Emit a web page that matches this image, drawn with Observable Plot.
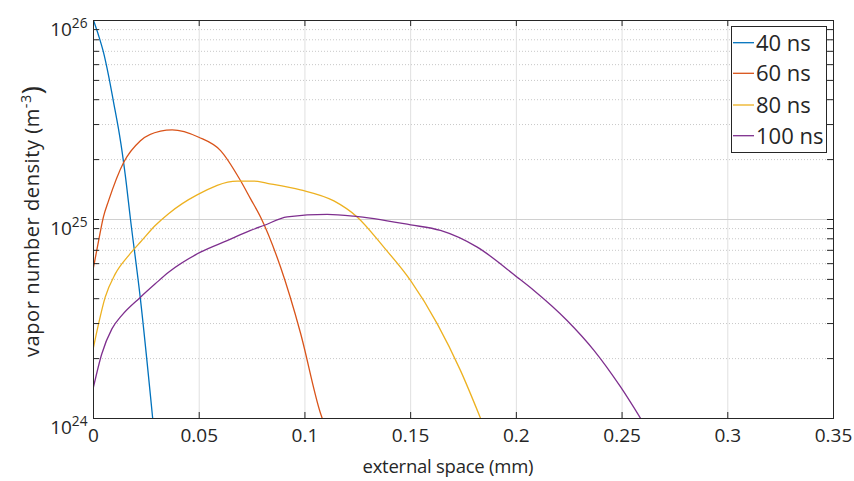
<!DOCTYPE html>
<html><head><meta charset="utf-8">
<script src="https://cdn.jsdelivr.net/npm/d3@7"></script>
<script src="https://cdn.jsdelivr.net/npm/@observablehq/plot@0.6"></script>
<style>body{margin:0;background:#fff;}</style>
</head><body><div id="chart"></div>
<script>
// ---- data (external space in mm, vapor number density in m^-3) ----
const seriesNames = ["40 ns", "60 ns", "80 ns", "100 ns"];
const seriesColors = ["#0072BD", "#D95319", "#EDB120", "#7E2F8E"];

const x40 = [0, 0.0024, 0.0047, 0.0071, 0.0095, 0.0118, 0.0134, 0.015, 0.0175, 0.0221, 0.028];
const y40 = [1.0e26, 8.41e25, 6.93e25, 5.3e25, 3.88e25, 2.86e25, 2.24e25, 1.68e25, 1.0e25, 4.06e24, 1.0e24];

const x60 = [0, 0.0024, 0.0047, 0.0071, 0.0143, 0.0222, 0.0317, 0.0372, 0.0498, 0.0601, 0.0695, 0.0743, 0.079, 0.0885, 0.0979, 0.1074, 0.1082];
const y60 = [5.75e24, 7.8e24, 1.03e25, 1.24e25, 1.94e25, 2.49e25, 2.78e25, 2.82e25, 2.59e25, 2.22e25, 1.57e25, 1.27e25, 1.03e25, 5.75e24, 2.69e24, 1.06e24, 1.0e24];

const x80 = [0, 0.0024, 0.0055, 0.0103, 0.0166, 0.0228, 0.0292, 0.0355, 0.049, 0.068, 0.0758, 0.0822, 0.0979, 0.1137, 0.1247, 0.1373, 0.15, 0.1626, 0.1736, 0.1831];
const y80 = [2.28e24, 2.99e24, 4.06e24, 5.33e24, 6.59e24, 7.83e24, 9.33e24, 1.07e25, 1.33e25, 1.56e25, 1.56e25, 1.52e25, 1.41e25, 1.24e25, 1.03e25, 7.26e24, 4.93e24, 2.99e24, 1.74e24, 1.0e24];

const x100 = [0, 0.0039, 0.0087, 0.0134, 0.0221, 0.0292, 0.0355, 0.0506, 0.0632, 0.0743, 0.0806, 0.0916, 0.1105, 0.1231, 0.15, 0.1641, 0.1815, 0.2004, 0.2083, 0.2241, 0.2367, 0.2493, 0.2588];
const y100 = [1.44e24, 2.11e24, 2.82e24, 3.3e24, 4.06e24, 4.75e24, 5.43e24, 6.85e24, 7.83e24, 8.81e24, 9.33e24, 1.03e25, 1.06e25, 1.04e25, 9.4e24, 8.81e24, 7.26e24, 5.13e24, 4.4e24, 3.1e24, 2.2e24, 1.44e24, 1.0e24];

const xTicks = [0, 0.05, 0.1, 0.15, 0.2, 0.25, 0.3, 0.35];
const xTickLabels = ["0", "0.05", "0.1", "0.15", "0.2", "0.25", "0.3", "0.35"];
const yMajor = [1e24, 1e25, 1e26];
const yMinor = [2e24, 3e24, 4e24, 5e24, 6e24, 7e24, 8e24, 9e24, 2e25, 3e25, 4e25, 5e25, 6e25, 7e25, 8e25, 9e25];
const xLabel = "external space (mm)";
const yLabelMain = "vapor number density (m";
const yLabelSup = "-3";

// ---- build table ----
const xs = [x40, x60, x80, x100], ys = [y40, y60, y80, y100];
const rows = [];
seriesNames.forEach((s, i) => xs[i].forEach((x, j) => rows.push({x, y: ys[i][j], s})));

const W = 854, H = 481, mL = 93, mR = 21, mT = 20, mB = 63;
const fw = W - mL - mR, fh = H - mT - mB;
const FONT = "'Open Sans', sans-serif";
const INK = "#262626";

const plot = Plot.plot({
  width: W, height: H,
  marginLeft: mL, marginRight: mR, marginTop: mT, marginBottom: mB,
  style: {fontFamily: FONT, fontSize: "19px", color: INK, background: "#fff"},
  x: {domain: [0, 0.35]},
  y: {type: "log", domain: [1e24, 1e26]},
  color: {domain: seriesNames, range: seriesColors},
  marks: [
    Plot.ruleY(yMinor, {y: d => d, stroke: "#c8c8c8", strokeDasharray: "1,2"}),
    Plot.ruleX(xTicks.slice(1, -1), {x: d => d, stroke: "#e0e0e0"}),
    Plot.ruleY([1e25], {y: d => d, stroke: "#d0d0d0"}),
    Plot.line(rows, {x: "x", y: "y", stroke: "s", z: "s", curve: "monotone-x", strokeWidth: 1.3, clip: true}),
    Plot.frame({stroke: INK}),
    Plot.tickX(xTicks, {x: d => d, insetTop: fh - 6, stroke: INK}),
    Plot.tickX(xTicks, {x: d => d, insetBottom: fh - 6, stroke: INK}),
    Plot.tickY(yMajor.concat(yMinor), {y: d => d, insetRight: fw - 6, stroke: INK}),
    Plot.tickY(yMajor.concat(yMinor), {y: d => d, insetLeft: fw - 6, stroke: INK}),
    Plot.axisX(xTicks, {tickSize: 0, tickPadding: 10, tickFormat: (d, i) => xTickLabels[i], label: null, fill: INK}),
    Plot.axisY(yMajor, {tickSize: 0, tickPadding: 6, tickFormat: d => "10^" + Math.round(Math.log10(d)), label: null, fill: INK})
  ]
});
document.getElementById("chart").append(plot);

const svg = d3.select(plot);

// y tick labels: 10 with superscript exponent
svg.selectAll('g[aria-label="y-axis tick label"] text').each(function() {
  const t = this.textContent;
  const [b, e] = t.split("^");
  const sel = d3.select(this);
  sel.text("").attr("dy", "0.5em");
  sel.append("tspan").text(b);
  sel.append("tspan").attr("dy", "-0.6em").attr("font-size", "0.72em").text(e);
});

// axis labels
svg.append("text")
  .attr("x", 448).attr("y", 473)
  .attr("text-anchor", "middle")
  .attr("font-family", FONT).attr("font-size", 18.5).attr("fill", INK)
  .attr("textLength", 171).attr("lengthAdjust", "spacing")
  .text(xLabel);

const yl = svg.append("text")
  .attr("transform", "translate(38.5,221.5) rotate(-90)")
  .attr("text-anchor", "middle")
  .attr("font-family", FONT).attr("font-size", 20).attr("fill", INK)
  .attr("textLength", 271).attr("lengthAdjust", "spacing");
yl.append("tspan").text(yLabelMain);
yl.append("tspan").attr("dy", "-0.55em").attr("font-size", "0.72em").text(yLabelSup);
yl.append("tspan").attr("dy", "0.4em").attr("font-size", "1.389em").text(")");

// legend
const lg = svg.append("g");
lg.append("rect").attr("x", 731.5).attr("y", 26.5).attr("width", 95).attr("height", 126)
  .attr("fill", "#fff").attr("stroke", INK);
const rowY = [42.7, 73.3, 105, 135.7];
seriesNames.forEach((s, i) => {
  lg.append("line").attr("x1", 733).attr("x2", 754).attr("y1", rowY[i]).attr("y2", rowY[i])
    .attr("stroke", seriesColors[i]).attr("stroke-width", 1.3);
  lg.append("text").attr("x", 756).attr("y", rowY[i]).attr("dy", "0.36em")
    .attr("text-anchor", "start")
    .attr("font-family", FONT).attr("font-size", 22).attr("fill", INK).text(s);
});
</script>
</body></html>
